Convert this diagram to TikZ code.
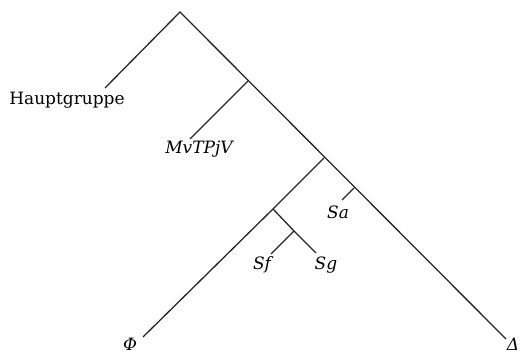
\documentclass[tikz,border=0pt]{standalone}
\usepackage{fontspec}
\setmainfont{DejaVu Serif}
\usepackage{tikz}
\usetikzlibrary{positioning}

\begin{document}
\begin{tikzpicture}[
  x=1pt,y=-1pt,
  every node/.style={font=\fontsize{17}{19}\selectfont,inner sep=0pt},
  lf/.style={font=\fontsize{17}{19}\selectfont\itshape},
  edge/.style={line width=1.3pt,black!85}]
\useasboundingbox (0,0) rectangle (523,355);
% inner points of the tree
\coordinate (top) at (180,12);
\coordinate (n1) at (248,81);
\coordinate (n2) at (324,158);
\coordinate (nsa) at (354,188);
\coordinate (n3) at (273,209);
\coordinate (n4) at (294,231);
% leaf ends
\coordinate (hgend) at (105,88);
\coordinate (mvend) at (190,139);
\coordinate (saend) at (342,200);
\coordinate (sfend) at (271,254);
\coordinate (sgend) at (316,253);
\coordinate (phend) at (143,337);
\coordinate (deend) at (506,339);
% labels
\node (hg) at (67,100) {Hauptgruppe};
\node[lf] (mv) at (199,149) {MvTPjV};
\node[lf] (sa) at (338,212) {Sa};
\node[lf] (sf) at (262,265) {Sf};
\node[lf] (sg) at (326,265) {Sg};
\node[lf] (ph) at (130,344) {Φ};
\node[lf] (de) at (513,344) {Δ};

\draw[edge] (hgend) -- (top) -- (deend);
\draw[edge] (n1) -- (mvend);
\draw[edge] (n2) -- (n3) -- (phend);
\draw[edge] (nsa) -- (saend);
\draw[edge] (n3) -- (n4) -- (sgend);
\draw[edge] (n4) -- (sfend);
\end{tikzpicture}
\end{document}
